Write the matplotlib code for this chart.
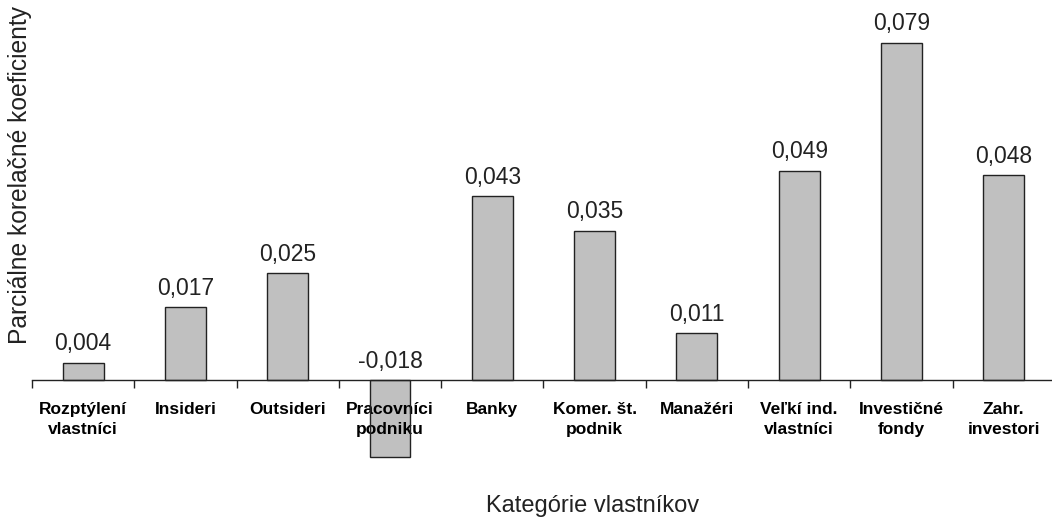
import matplotlib
matplotlib.use("Agg")
import matplotlib.pyplot as plt
import numpy as np

# Kategórie vlastníkov a parciálne korelačné koeficienty
categories = ["Rozptýlení\nvlastníci", "Insideri", "Outsideri", "Pracovníci\npodniku",
              "Banky", "Komer. št.\npodnik", "Manažéri", "Veľkí ind.\nvlastníci",
              "Investičné\nfondy", "Zahr.\ninvestori"]
values = [0.004, 0.017, 0.025, -0.018, 0.043, 0.035, 0.011, 0.049, 0.079, 0.048]
value_labels = ["0,004", "0,017", "0,025", "-0,018", "0,043", "0,035", "0,011",
                "0,049", "0,079", "0,048"]

plt.rcParams['font.family'] = ['Liberation Sans', 'DejaVu Sans']

fig = plt.figure(figsize=(10.52, 5.21), dpi=100)
ax = fig.add_axes([0.0304, 0.1067, 0.9724, 0.836])

x = np.arange(len(categories))
# výplň pod popiskami, obrys nad nimi (ako v pôvodnom grafe)
ax.bar(x, values, width=0.4, color='#c0c0c0', linewidth=0, zorder=2)
ax.bar(x, values, width=0.4, facecolor='none', edgecolor='#222222', linewidth=1.0, zorder=4)

# popisky hodnôt nad stĺpcami (záporný nad osou)
for xi, v, lab in zip(x, values, value_labels):
    ax.annotate(lab, (xi, max(v, 0)), xytext=(0, 9), textcoords='offset points',
                ha='center', va='baseline', fontsize=16.5, color='#222222')

ax.set_xlim(-0.5, len(categories) - 0.5)
ax.set_ylim(-0.02, 0.082)

for s in ['left', 'right', 'top']:
    ax.spines[s].set_visible(False)
ax.spines['bottom'].set_position(('data', 0))
ax.spines['bottom'].set_color('#222222')
ax.spines['bottom'].set_linewidth(1.0)
ax.spines['bottom'].set_zorder(5)
ax.xaxis.set_zorder(3)

ax.set_yticks([])
ax.set_xticks(x)
ax.set_xticklabels(categories, fontsize=12.5, fontweight='bold', linespacing=1.4)
ax.tick_params(axis='x', which='major', length=0, pad=16)
ax.set_xticks(np.arange(len(categories) + 1) - 0.5, minor=True)
ax.tick_params(axis='x', which='minor', length=6, width=1.0, color='#222222', direction='out')

fig.text(593 / 1052, 1 - 506 / 521, "Kategórie vlastníkov", ha='center', va='center',
         fontsize=17, color='#222222')
fig.text(20 / 1052, 1 - 175 / 521, "Parciálne korelačné koeficienty", ha='center',
         va='center', rotation=90, fontsize=17.7, color='#222222')

fig.savefig("out.png", dpi=100)
